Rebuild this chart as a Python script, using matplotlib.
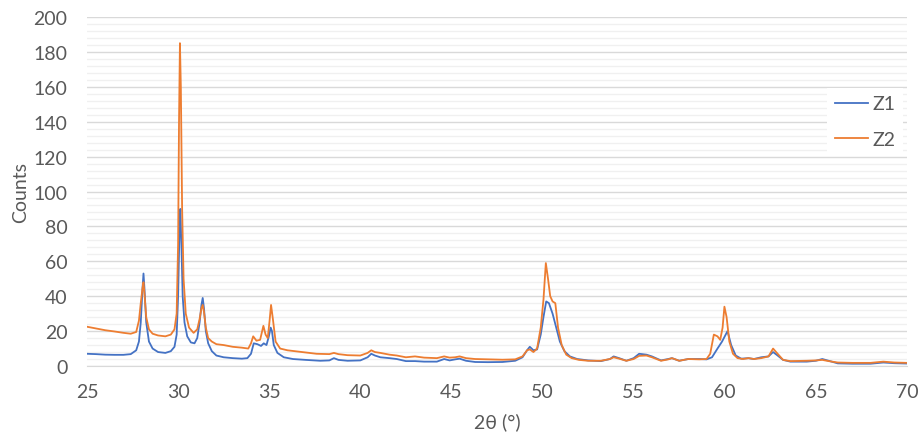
import numpy as np
import matplotlib.pyplot as plt
from matplotlib.ticker import MultipleLocator

plt.rcParams['font.family'] = ['Lato', 'DejaVu Sans']

# 2theta / counts
z1_x = [25.0, 25.5, 26.0, 26.5, 27.0, 27.4, 27.7, 27.85, 27.95, 28.05, 28.1, 28.15, 28.25, 28.4,
        28.6, 28.9, 29.3, 29.6, 29.8, 29.92, 30.0, 30.07, 30.12, 30.18, 30.25, 30.35, 30.5, 30.7,
        30.9, 31.05, 31.18, 31.28, 31.35, 31.42, 31.52, 31.65, 31.85, 32.1, 32.5, 33.0, 33.5, 33.8,
        34.0, 34.15, 34.35, 34.55, 34.7, 34.85, 34.98, 35.08, 35.15, 35.25, 35.45, 35.8, 36.3, 37.0,
        37.8, 38.3, 38.55, 38.8, 39.3, 40.0, 40.4, 40.6, 40.8, 41.1, 41.6, 42.0, 42.5, 43.0, 43.5,
        44.2, 44.6, 44.9, 45.2, 45.45, 45.8, 46.3, 47.0, 47.8, 48.5, 48.9, 49.15, 49.3, 49.5, 49.7,
        49.9, 50.05, 50.2, 50.35, 50.55, 50.75, 50.95, 51.2, 51.5, 51.9, 52.5, 53.2, 53.7, 53.9,
        54.2, 54.6, 55.0, 55.3, 55.7, 56.0, 56.5, 56.9, 57.1, 57.5, 58.0, 58.6, 59.0, 59.3, 59.6,
        59.85, 60.0, 60.15, 60.35, 60.6, 60.9, 61.3, 61.6, 62.0, 62.4, 62.65, 62.9, 63.2, 63.6,
        64.5, 65.0, 65.35, 65.7, 66.2, 67.0, 68.0, 68.7, 69.3, 70.0]
z1_y = [7.0, 6.8, 6.5, 6.4, 6.4, 6.8, 9.0, 14.0, 25.0, 45.0, 53.0, 45.0, 25.0, 14.0,
        10.0, 8.0, 7.5, 8.5, 11.0, 18.0, 40.0, 75.0, 90.0, 70.0, 40.0, 25.0, 17.0, 13.5,
        13.0, 16.0, 25.0, 35.0, 39.0, 33.0, 20.0, 13.0, 8.5, 6.0, 5.0, 4.5, 4.2, 4.5,
        7.0, 13.0, 12.5, 11.5, 13.0, 12.0, 17.0, 22.0, 20.0, 12.0, 7.5, 5.0, 4.0, 3.5,
        3.0, 3.2, 4.5, 3.5, 3.0, 3.2, 5.0, 7.0, 6.0, 5.0, 4.5, 4.0, 2.8, 2.8, 2.5,
        2.5, 4.0, 3.2, 3.8, 4.2, 3.0, 2.3, 2.2, 2.3, 3.0, 5.0, 9.0, 11.0, 9.0, 9.5,
        18.0, 28.0, 37.0, 36.0, 30.0, 22.0, 14.0, 8.5, 5.5, 4.0, 3.2, 2.8, 4.0, 5.5,
        4.5, 3.0, 4.5, 7.0, 6.5, 5.5, 3.2, 4.0, 4.5, 3.0, 4.0, 4.0, 3.8, 5.0, 10.0,
        14.0, 17.0, 20.0, 12.0, 6.0, 4.2, 4.5, 4.0, 5.0, 5.5, 8.0, 6.0, 3.5, 2.5,
        2.5, 3.0, 4.0, 3.0, 1.5, 1.3, 1.3, 2.0, 1.6, 1.4]

z2_x = [25.0, 25.5, 26.0, 26.5, 27.0, 27.4, 27.7, 27.85, 27.95, 28.05, 28.1, 28.15, 28.25, 28.4,
        28.6, 28.9, 29.3, 29.6, 29.8, 29.92, 30.0, 30.05, 30.1, 30.15, 30.22, 30.3, 30.42, 30.6,
        30.85, 31.05, 31.18, 31.28, 31.35, 31.42, 31.52, 31.65, 31.85, 32.1, 32.5, 33.0, 33.5, 33.85,
        34.0, 34.12, 34.3, 34.5, 34.68, 34.8, 34.92, 35.02, 35.1, 35.2, 35.35, 35.6, 36.0, 36.8,
        37.6, 38.3, 38.55, 38.8, 39.3, 40.0, 40.4, 40.6, 40.8, 41.1, 41.6, 42.0, 42.5, 43.0, 43.5,
        44.2, 44.6, 44.9, 45.2, 45.45, 45.8, 46.3, 47.0, 47.8, 48.5, 48.9, 49.15, 49.3, 49.5, 49.7,
        49.9, 50.05, 50.18, 50.3, 50.42, 50.55, 50.7, 50.85, 51.05, 51.3, 51.6, 52.0, 52.5, 53.2,
        53.7, 53.9, 54.2, 54.6, 55.0, 55.3, 55.7, 56.0, 56.5, 56.9, 57.1, 57.5, 58.0, 58.6, 59.0,
        59.2, 59.4, 59.6, 59.75, 59.88, 59.98, 60.1, 60.25, 60.45, 60.7, 61.0, 61.3, 61.6, 62.0,
        62.4, 62.65, 62.9, 63.2, 63.6, 64.5, 65.0, 65.35, 65.7, 66.2, 67.0, 68.0, 68.7, 69.3, 70.0]
z2_y = [22.5, 21.5, 20.5, 19.8, 19.0, 18.5, 19.5, 26.0, 36.0, 45.0, 48.0, 42.0, 28.0, 21.0,
        18.5, 17.5, 17.0, 18.0, 21.0, 30.0, 70.0, 140.0, 185.0, 160.0, 90.0, 50.0, 30.0, 22.0,
        19.0, 21.0, 27.0, 33.0, 35.0, 31.0, 22.0, 16.0, 14.0, 12.5, 12.0, 11.0, 10.5, 10.0,
        13.0, 17.0, 14.5, 15.0, 23.0, 18.0, 16.0, 26.0, 35.0, 27.0, 14.0, 10.0, 9.0, 8.0,
        7.0, 6.8, 7.5, 6.8, 6.2, 6.0, 7.5, 9.0, 8.0, 7.5, 6.5, 6.0, 5.0, 5.5, 4.8,
        4.5, 5.5, 4.8, 5.0, 5.5, 4.5, 4.0, 3.8, 3.6, 3.8, 5.5, 9.0, 9.5, 8.0, 10.0,
        22.0, 38.0, 59.0, 50.0, 40.0, 37.0, 36.0, 22.0, 12.0, 6.5, 4.5, 3.5, 3.0, 3.0,
        4.0, 5.0, 4.2, 3.0, 4.0, 5.8, 6.0, 5.0, 3.0, 3.8, 4.5, 3.0, 4.0, 3.8, 4.0,
        7.0, 18.0, 17.0, 15.0, 22.0, 34.0, 28.0, 14.0, 7.0, 4.5, 4.0, 4.5, 4.0, 4.5,
        5.5, 10.0, 7.0, 3.5, 2.8, 3.0, 3.2, 3.5, 2.8, 2.0, 1.8, 1.8, 2.5, 2.0, 1.8]

grey = '#595959'

fig = plt.figure(figsize=(9.2, 4.39), dpi=100)
ax = fig.add_axes([87 / 920, 72 / 439, 820 / 920, 349 / 439])

ax.plot(z1_x, z1_y, color='#4472C4', lw=1.3, label='Z1')
ax.plot(z2_x, z2_y, color='#ED7D31', lw=1.3, label='Z2')

ax.set_xlim(25, 70)
ax.set_ylim(0, 200)
ax.xaxis.set_major_locator(MultipleLocator(5))
ax.yaxis.set_major_locator(MultipleLocator(20))
ax.yaxis.set_minor_locator(MultipleLocator(4))
ax.grid(axis='y', which='major', color='#d9d9d9', lw=1.0)
ax.grid(axis='y', which='minor', color='#f0f0f0', lw=1.0)
ax.set_axisbelow(True)
for s in ['top', 'right', 'left']:
    ax.spines[s].set_visible(False)
ax.spines['bottom'].set_color('#d9d9d9')
ax.tick_params(which='both', length=0, labelsize=14, colors=grey)
ax.tick_params(axis='y', pad=14)
ax.tick_params(axis='x', pad=12)
ax.set_xlabel('2θ (°)', fontsize=14, color=grey, labelpad=9)
ax.set_ylabel('Counts', fontsize=14, color=grey, labelpad=3)

leg = ax.legend(loc='center', bbox_to_anchor=(0.949, 0.70), frameon=True,
                fontsize=14, handlelength=1.7, handletextpad=0.25, labelspacing=0.95,
                borderpad=0.4, fancybox=False)
leg.get_frame().set_edgecolor('none')
leg.get_frame().set_facecolor('white')
leg.get_frame().set_alpha(1)
for t in leg.get_texts():
    t.set_color(grey)

fig.savefig('out.png', dpi=100)
